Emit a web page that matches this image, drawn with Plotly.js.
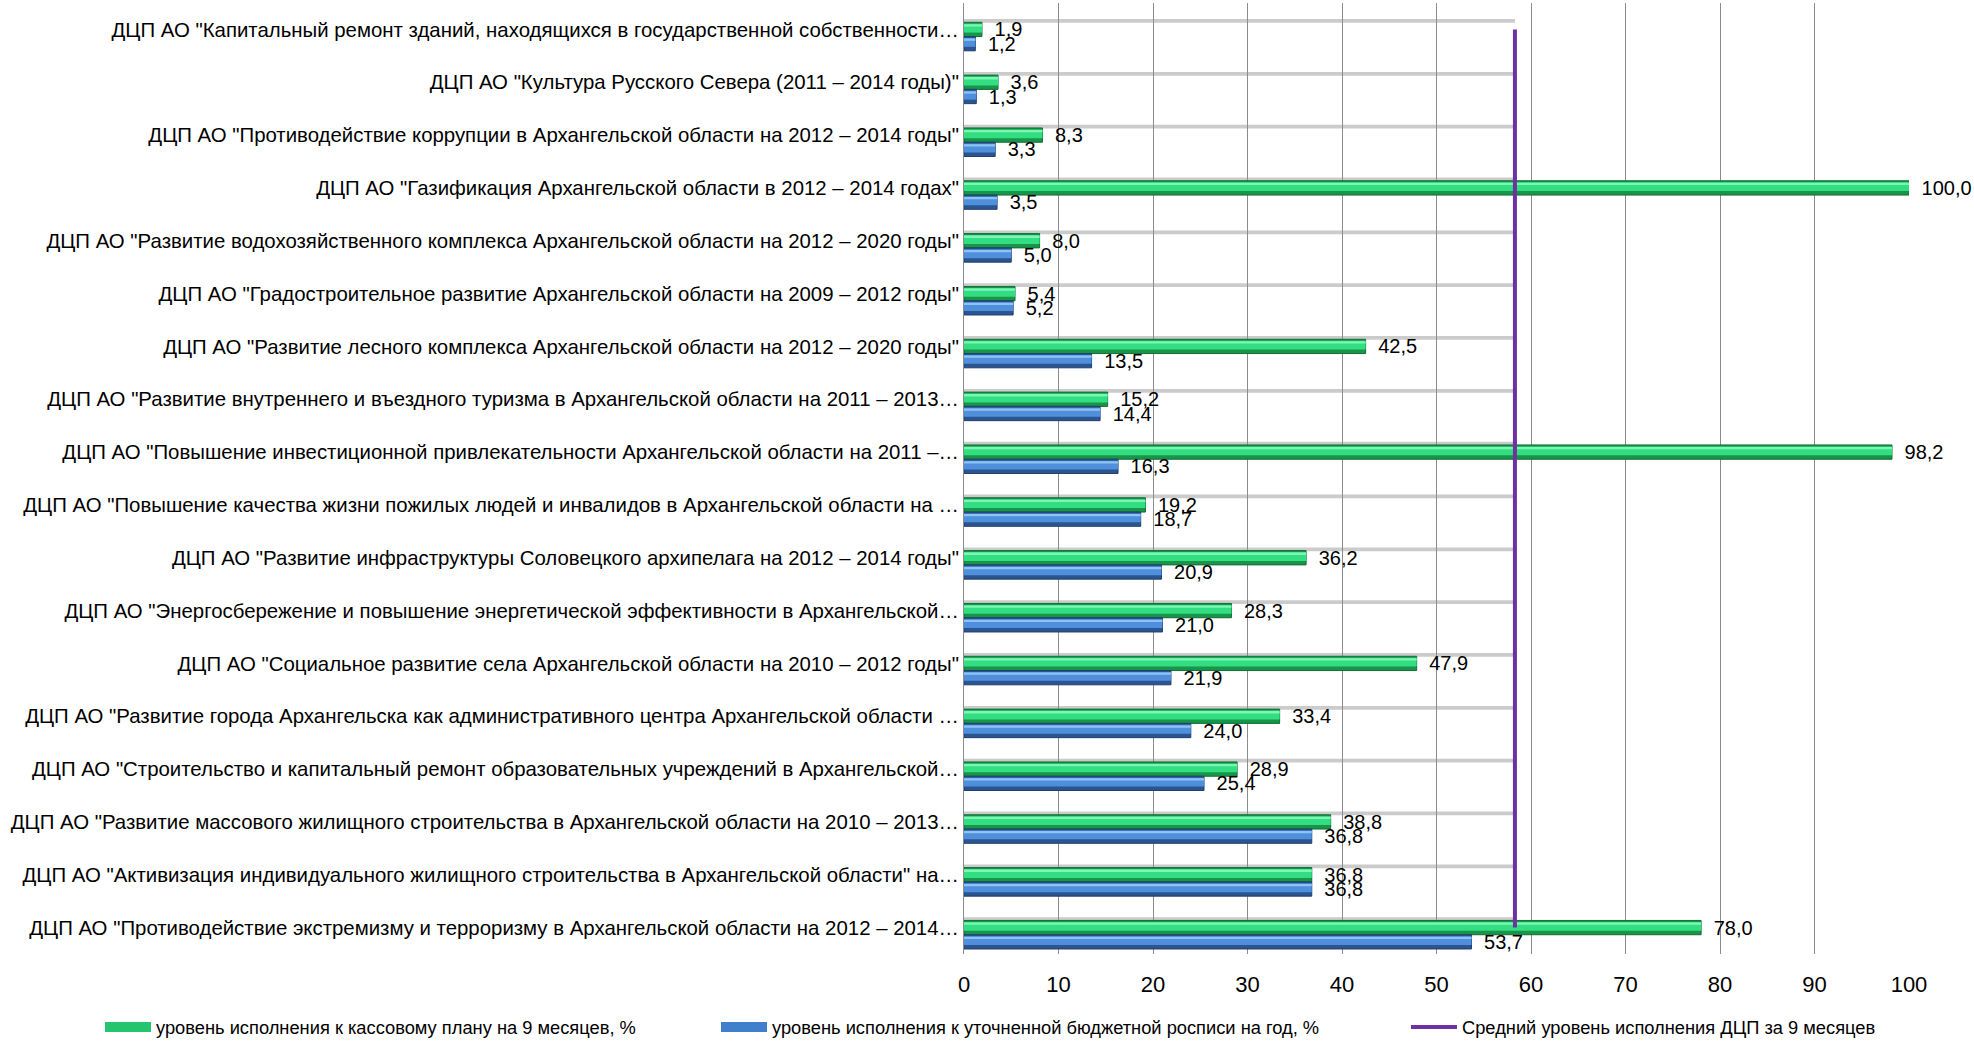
<!DOCTYPE html>
<html>
<head>
<meta charset="utf-8">
<script src="https://cdn.plot.ly/plotly-3.0.1.min.js"></script>
<style>html,body{margin:0;padding:0;background:#fff;}#chart{width:1974px;height:1042px;}</style>
</head>
<body>
<div id="chart"></div>
<script>
const categories = [
  'ДЦП АО "Капитальный ремонт зданий, находящихся в государственной собственности…',
  'ДЦП АО "Культура Русского Севера (2011 – 2014 годы)"',
  'ДЦП АО "Противодействие коррупции в Архангельской области на 2012 – 2014 годы"',
  'ДЦП АО "Газификация Архангельской области в 2012 – 2014 годах"',
  'ДЦП АО "Развитие водохозяйственного комплекса Архангельской области на 2012 – 2020 годы"',
  'ДЦП АО "Градостроительное развитие Архангельской области на 2009 – 2012 годы"',
  'ДЦП АО "Развитие лесного комплекса Архангельской области на 2012 – 2020 годы"',
  'ДЦП АО "Развитие внутреннего и въездного туризма в Архангельской области на 2011 – 2013…',
  'ДЦП АО "Повышение инвестиционной привлекательности Архангельской области на 2011 –…',
  'ДЦП АО "Повышение качества жизни пожилых людей и инвалидов в Архангельской области на …',
  'ДЦП АО "Развитие инфраструктуры Соловецкого архипелага на 2012 – 2014 годы"',
  'ДЦП АО "Энергосбережение и повышение энергетической эффективности в Архангельской…',
  'ДЦП АО "Социальное развитие села Архангельской области на 2010 – 2012 годы"',
  'ДЦП АО "Развитие города Архангельска как административного центра Архангельской области …',
  'ДЦП АО "Строительство и капитальный ремонт образовательных учреждений в Архангельской…',
  'ДЦП АО "Развитие массового жилищного строительства в Архангельской области на 2010 – 2013…',
  'ДЦП АО "Активизация индивидуального жилищного строительства в Архангельской области" на…',
  'ДЦП АО "Противодействие экстремизму и терроризму в Архангельской области на 2012 – 2014…'
];
const cashPlan = [1.9, 3.6, 8.3, 100.0, 8.0, 5.4, 42.5, 15.2, 98.2, 19.2, 36.2, 28.3, 47.9, 33.4, 28.9, 38.8, 36.8, 78.0];
const budgetYear = [1.2, 1.3, 3.3, 3.5, 5.0, 5.2, 13.5, 14.4, 16.3, 18.7, 20.9, 21.0, 21.9, 24.0, 25.4, 36.8, 36.8, 53.7];
const averageLevel = 58.3;
const xTicks = [0, 10, 20, 30, 40, 50, 60, 70, 80, 90, 100];

const seriesNames = [
  'уровень исполнения к кассовому плану на 9 месяцев, %',
  'уровень исполнения к уточненной бюджетной росписи на год, %',
  'Средний уровень исполнения ДЦП за 9 месяцев'
];

const FONT = '"Liberation Sans Narrow", "Arial Narrow", sans-serif';
const BW = 0.27;
const pad = '\u00a0\u2009';
const avgArr = categories.map(() => averageLevel);
const nCat = categories.length;

const labelFont = {family:FONT, size:20.4, color:'#000'};
const valueFont = {family:FONT, size:20, color:'#000'};

const traces = [
  // soft shadow of the average series
  {type:'bar', orientation:'h', y:categories, x:avgArr, width:0.07, offset:-BW/2-0.06,
   marker:{color:'rgba(140,140,140,0.45)'}, hoverinfo:'skip', showlegend:false},
  // green series
  {type:'bar', orientation:'h', name:seriesNames[0], y:categories, x:cashPlan, width:BW, offset:-BW/2,
   marker:{color:'#189548', line:{color:'#0f6e35', width:1}},
   texttemplate:pad+'%{x:.1f}', textposition:'outside', constraintext:'none', cliponaxis:false,
   textfont:valueFont, showlegend:false},
  {type:'bar', orientation:'h', y:categories, x:cashPlan, width:BW*0.62, offset:-BW/2+BW*0.1,
   marker:{color:'#33de82'}, hoverinfo:'skip', showlegend:false},
  {type:'bar', orientation:'h', y:categories, x:cashPlan, width:BW*0.16, offset:-BW/2+BW*0.14,
   marker:{color:'#7cf5b5'}, hoverinfo:'skip', showlegend:false},
  // blue series
  {type:'bar', orientation:'h', name:seriesNames[1], y:categories, x:budgetYear, width:BW, offset:BW/2,
   marker:{color:'#2b5591', line:{color:'#213f6e', width:1}},
   texttemplate:pad+'%{x:.1f}', textposition:'outside', constraintext:'none', cliponaxis:false,
   textfont:valueFont, showlegend:false},
  {type:'bar', orientation:'h', y:categories, x:budgetYear, width:BW*0.62, offset:BW/2+BW*0.1,
   marker:{color:'#4f8fdc'}, hoverinfo:'skip', showlegend:false},
  {type:'bar', orientation:'h', y:categories, x:budgetYear, width:BW*0.16, offset:BW/2+BW*0.14,
   marker:{color:'#8cc4f5'}, hoverinfo:'skip', showlegend:false},
  // average line
  {type:'scatter', mode:'lines', name:seriesNames[2], x:[averageLevel, averageLevel],
   y:[categories[0], categories[nCat-1]], line:{color:'#7030a0', width:4},
   legend:'legend3', cliponaxis:false, hoverinfo:'skip'},
  // legend keys for bar series
  {type:'scatter', mode:'lines', name:seriesNames[0], x:[null], y:[null],
   line:{color:'#24c56c', width:10}, legend:'legend', hoverinfo:'skip'},
  {type:'scatter', mode:'lines', name:seriesNames[1], x:[null], y:[null],
   line:{color:'#3f7fcc', width:10}, legend:'legend2', hoverinfo:'skip'}
];

const W = 1974, H = 1042, L = 964, R = 65, T = 3, B = 88;
const pw = W - L - R, ph = H - T - B;
const lx = px => (px - L) / pw;
const ly = py => (H - B - py) / ph;

const legendBase = {orientation:'h', xanchor:'left', yanchor:'middle', y:ly(1027),
  font:{family:FONT, size:18.3, color:'#000'}, bgcolor:'rgba(0,0,0,0)', itemwidth:46, tracegroupgap:0};

const layout = {
  width:W, height:H,
  margin:{l:L, r:R, t:T, b:B, pad:0, autoexpand:false},
  paper_bgcolor:'#fff', plot_bgcolor:'#fff',
  barmode:'overlay',
  separators:', ',
  font:{family:FONT, size:20, color:'#000'},
  xaxis:{range:[0,100], tickvals:xTicks, showgrid:true, gridcolor:'#8c8c8c', gridwidth:1,
    zeroline:false, showline:false, ticks:'', tickfont:{family:FONT, size:22, color:'#000'},
    ticklabelstandoff:15, fixedrange:true, automargin:false},
  yaxis:{type:'category', range:[nCat-0.5, -0.5], showgrid:false, zeroline:false,
    showline:true, linecolor:'#8c8c8c', linewidth:1, ticks:'',
    tickfont:labelFont, ticklabelstandoff:0, automargin:false},
  showlegend:true,
  legend:Object.assign({}, legendBase, {x:lx(100)}),
  legend2:Object.assign({}, legendBase, {x:lx(716)}),
  legend3:Object.assign({}, legendBase, {x:lx(1406)})
};

Plotly.newPlot('chart', traces, layout, {displayModeBar:false, staticPlot:true});
</script>
</body>
</html>
